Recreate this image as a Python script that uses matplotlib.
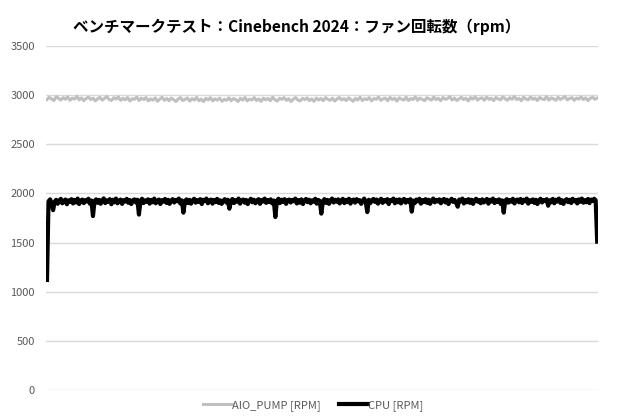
import numpy as np
import matplotlib
matplotlib.use('Agg')
import matplotlib.pyplot as plt

plt.rcParams['font.family'] = ['Noto Sans CJK JP', 'DejaVu Sans']

title = 'ベンチマークテスト：Cinebench 2024：ファン回転数（rpm）'
yticks = [0, 500, 1000, 1500, 2000, 2500, 3000, 3500]
label_pump = 'AIO_PUMP [RPM]'
label_cpu = 'CPU [RPM]'

# values (approx.)
cpu_rpm = [
    1120, 1920, 1940, 1905, 1830, 1915, 1935, 1895, 1928, 1945, 1900, 1922, 1938, 1890, 1930,
    1915, 1942, 1898, 1934, 1908, 1948, 1892, 1926, 1938, 1902, 1932, 1918, 1946, 1896, 1928,
    1770, 1920, 1940, 1905, 1935, 1895, 1928, 1950, 1902, 1930, 1915, 1942, 1890, 1936, 1910,
    1948, 1900, 1925, 1938, 1894, 1932, 1918, 1945, 1905, 1934, 1892, 1928, 1940, 1908, 1936,
    1785, 1922, 1946, 1902, 1930, 1915, 1940, 1896, 1934, 1910, 1948, 1900, 1926, 1938, 1892,
    1932, 1916, 1944, 1904, 1936, 1894, 1928, 1942, 1908, 1934, 1920, 1948, 1898, 1930, 1805,
    1918, 1940, 1902, 1935, 1896, 1928, 1946, 1906, 1932, 1914, 1942, 1892, 1936, 1922, 1948,
    1900, 1928, 1938, 1896, 1934, 1912, 1945, 1904, 1930, 1894, 1926, 1942, 1908, 1936, 1845,
    1920, 1944, 1902, 1932, 1916, 1948, 1896, 1930, 1938, 1906, 1934, 1892, 1926, 1946, 1910,
    1936, 1900, 1928, 1942, 1894, 1932, 1918, 1948, 1904, 1934, 1912, 1940, 1898, 1928, 1760,
    1922, 1946, 1902, 1936, 1914, 1942, 1894, 1930, 1938, 1908, 1934, 1920, 1948, 1898, 1932,
    1906, 1940, 1892, 1928, 1944, 1912, 1936, 1900, 1930, 1916, 1946, 1896, 1934, 1924, 1795,
    1918, 1942, 1904, 1934, 1894, 1930, 1948, 1908, 1936, 1916, 1940, 1898, 1928, 1945, 1902,
    1934, 1912, 1946, 1896, 1930, 1938, 1906, 1942, 1920, 1932, 1894, 1926, 1948, 1910, 1810,
    1936, 1902, 1930, 1944, 1914, 1938, 1896, 1928, 1946, 1904, 1934, 1918, 1942, 1892, 1932,
    1924, 1948, 1900, 1936, 1910, 1940, 1898, 1930, 1945, 1906, 1934, 1916, 1942, 1815, 1928,
    1902, 1938, 1920, 1946, 1896, 1932, 1912, 1942, 1904, 1936, 1894, 1928, 1948, 1910, 1934,
    1918, 1940, 1900, 1930, 1944, 1908, 1936, 1892, 1926, 1946, 1914, 1934, 1902, 1865, 1938,
    1920, 1948, 1898, 1932, 1910, 1942, 1904, 1936, 1894, 1930, 1946, 1916, 1934, 1900, 1940,
    1908, 1928, 1944, 1896, 1936, 1918, 1948, 1902, 1932, 1912, 1940, 1894, 1930, 1805, 1926,
    1942, 1906, 1934, 1916, 1946, 1898, 1930, 1938, 1910, 1944, 1902, 1936, 1920, 1948, 1896,
    1932, 1914, 1940, 1904, 1936, 1892, 1928, 1946, 1908, 1934, 1922, 1942, 1875, 1930, 1910,
    1945, 1900, 1936, 1918, 1948, 1904, 1932, 1894, 1928, 1942, 1912, 1936, 1902, 1946, 1920,
    1934, 1898, 1940, 1916, 1948, 1906, 1932, 1910, 1944, 1902, 1938, 1922, 1946, 1930, 1510,
]

pump_rpm = [
    2955, 2978, 2962, 2945, 2985, 2968, 2950, 2975, 2958, 2982, 2948, 2970, 2960, 2988, 2952,
    2972, 2944, 2965, 2980, 2955, 2970, 2942, 2962, 2978, 2950, 2968, 2985, 2956, 2946, 2974,
    2960, 2982, 2948, 2968, 2952, 2976, 2940, 2964, 2958, 2980, 2946, 2970, 2955, 2975, 2942,
    2962, 2950, 2972, 2938, 2960, 2978, 2948, 2966, 2944, 2970, 2955, 2936, 2962, 2975, 2946,
    2958, 2972, 2940, 2965, 2950, 2976, 2944, 2960, 2935, 2968, 2952, 2974, 2942, 2962, 2950,
    2970, 2938, 2958, 2948, 2972, 2944, 2965, 2955, 2936, 2968, 2950, 2976, 2942, 2960, 2952,
    2975, 2946, 2962, 2938, 2970, 2952, 2966, 2944, 2978, 2955, 2940, 2968, 2958, 2974, 2948,
    2964, 2936, 2960, 2975, 2950, 2942, 2968, 2955, 2972, 2945, 2962, 2938, 2970, 2952, 2966,
    2944, 2975, 2958, 2948, 2968, 2940, 2962, 2976, 2952, 2965, 2945, 2972, 2956, 2938, 2968,
    2950, 2978, 2946, 2964, 2955, 2974, 2942, 2966, 2958, 2980, 2948, 2962, 2970, 2944, 2976,
    2956, 2968, 2940, 2972, 2960, 2950, 2978, 2946, 2966, 2955, 2982, 2948, 2970, 2958, 2944,
    2974, 2962, 2950, 2980, 2955, 2968, 2944, 2976, 2958, 2965, 2985, 2950, 2970, 2946, 2962,
    2978, 2955, 2968, 2942, 2975, 2960, 2984, 2950, 2966, 2972, 2948, 2980, 2958, 2968, 2945,
    2976, 2962, 2952, 2982, 2965, 2948, 2974, 2958, 2986, 2955, 2968, 2944, 2978, 2962, 2952,
    2980, 2958, 2970, 2946, 2976, 2962, 2955, 2984, 2950, 2972, 2964, 2948, 2978, 2956, 2968,
    2985, 2952, 2966, 2975, 2948, 2970, 2960, 2982, 2955, 2972, 2946, 2968, 2978, 2958, 2970,
]

fig = plt.figure(figsize=(6.2, 4.2), dpi=100)
ax = fig.add_axes([0.074, 0.0714, 0.891, 0.819])

# both series span the same time range
x_cpu = np.linspace(0, 1, len(cpu_rpm))
x_pump = np.linspace(0, 1, len(pump_rpm))
ax.plot(x_pump, pump_rpm, color='#bfbfbf', lw=2.2, label=label_pump)
ax.plot(x_cpu, cpu_rpm, color='black', lw=3.0, label=label_cpu)

ax.set_xlim(-0.002, 1.002)
ax.set_ylim(0, 3500)
ax.set_yticks(yticks)
ax.set_xticks([])
ax.grid(axis='y', color='#d9d9d9', lw=1)
ax.set_axisbelow(True)
for s in ax.spines.values():
    s.set_visible(False)
ax.tick_params(axis='y', length=0, pad=8, labelsize=8, labelcolor='#595959')

fig.text(0.478, 0.935, title, ha='center', va='center', fontsize=11.2, fontweight='bold')
fig.legend(loc='center', bbox_to_anchor=(0.505, 0.035), ncol=2, frameon=False,
           fontsize=8, labelcolor='#595959', handlelength=2.6, handletextpad=0.05,
           columnspacing=1.6)

fig.savefig('out.png', dpi=100)
